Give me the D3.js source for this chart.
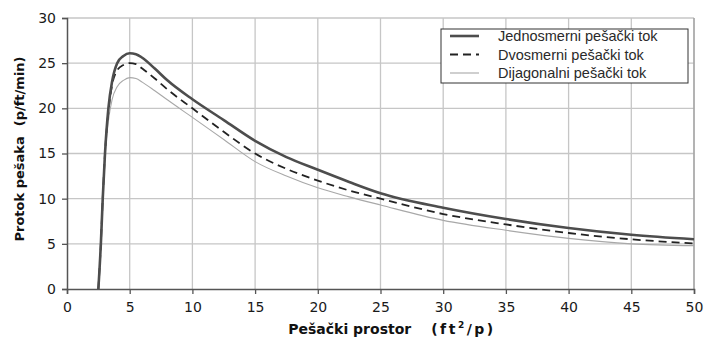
<!DOCTYPE html>
<html>
<head>
<meta charset="utf-8">
<script src="https://cdn.jsdelivr.net/npm/d3@7"></script>
<style>
  body { margin: 0; background: #fff; }
  svg { display: block; }
</style>
</head>
<body>
<div id="chart"></div>
<script>
// x = pedestrian space (ft2/p)
const space = [2.5, 2.7, 2.85, 3.03, 3.3, 3.6, 4.0, 4.5, 5, 5.5, 6, 7, 8, 10, 12.5, 15, 17.5, 20, 22.5, 25, 30, 35, 40, 45, 50];
const jednosmerni = [0, 5, 10, 15, 20, 23, 25, 25.8, 26.1, 26.0, 25.6, 24.4, 23.1, 21.0, 18.7, 16.4, 14.6, 13.2, 11.85, 10.6, 9.0, 7.75, 6.75, 6.0, 5.5];
const dvosmerni   = [0, 5, 10, 15, 19.6, 22.6, 24.2, 24.8, 25.0, 24.9, 24.4, 23.3, 22.1, 20.0, 17.4, 15.0, 13.3, 12.0, 10.9, 10.0, 8.3, 7.15, 6.2, 5.5, 5.05];
const dijagonalni = [0, 5, 10, 14.7, 18.6, 21.0, 22.4, 23.1, 23.4, 23.3, 22.9, 21.95, 20.95, 19.0, 16.55, 14.1, 12.5, 11.2, 10.2, 9.3, 7.6, 6.5, 5.6, 5.0, 4.8];
const xTicks = [0, 5, 10, 15, 20, 25, 30, 35, 40, 45, 50];
const yTicks = [0, 5, 10, 15, 20, 25, 30];
const seriesNames = ["Jednosmerni pešački tok", "Dvosmerni pešački tok", "Dijagonalni pešački tok"];

const W = 704, H = 339;
const margin = { top: 18, right: 10, bottom: 50, left: 67 };
const width = W - margin.left - margin.right;
const height = H - margin.top - margin.bottom;

const svg = d3.select("#chart").append("svg")
    .attr("width", W)
    .attr("height", H);
const g = svg.append("g")
    .attr("transform", "translate(" + margin.left + "," + margin.top + ")");

const x = d3.scaleLinear().domain([0, 50]).range([0, width]);
const y = d3.scaleLinear().domain([0, 30]).range([height, 0]);

// grid
g.append("g")
  .selectAll("line")
  .data(xTicks.slice(1))
  .enter().append("line")
  .attr("x1", d => x(d)).attr("x2", d => x(d))
  .attr("y1", 0).attr("y2", height)
  .style("stroke", "#c6c6c6")
  .style("stroke-width", 1.3);
g.append("g")
  .selectAll("line")
  .data(yTicks.slice(1))
  .enter().append("line")
  .attr("x1", 0).attr("x2", width)
  .attr("y1", d => y(d)).attr("y2", d => y(d))
  .style("stroke", "#c6c6c6")
  .style("stroke-width", 1.3);

// right border a bit darker
g.append("line")
  .attr("x1", x(50)).attr("x2", x(50))
  .attr("y1", 0).attr("y2", height)
  .style("stroke", "#999")
  .style("stroke-width", 1.2);

// axes
const xAxis = g.append("g")
  .attr("transform", "translate(0," + height + ")")
  .call(d3.axisBottom(x).tickValues(xTicks).tickSize(5).tickPadding(8));
const yAxis = g.append("g")
  .call(d3.axisLeft(y).tickValues(yTicks).tickSize(5).tickPadding(6));

[xAxis, yAxis].forEach(a => {
  a.select(".domain").style("stroke", "#555").style("stroke-width", 1.5);
  a.selectAll(".tick line").style("stroke", "#555").style("stroke-width", 1.3);
  a.selectAll(".tick text")
    .style("font-family", "'DejaVu Sans', Verdana, sans-serif")
    .style("font-size", "14px")
    .style("fill", "#1a1a1a");
});

// curves
const rows = space.map((s, i) => ({ s: s, a: jednosmerni[i], b: dvosmerni[i], c: dijagonalni[i] }));
const lineFor = key => d3.line()
  .x(d => x(d.s))
  .y(d => y(d[key]))
  .curve(d3.curveMonotoneX);

const styles = [
  { key: "c", stroke: "#a8a8a8", width: 1.1, dash: null },
  { key: "b", stroke: "#222", width: 1.8, dash: "8,5" },
  { key: "a", stroke: "#4d4d4d", width: 2.6, dash: null }
];

styles.forEach(st => {
  g.append("path")
    .datum(rows)
    .attr("d", lineFor(st.key))
    .style("fill", "none")
    .style("stroke", st.stroke)
    .style("stroke-width", st.width)
    .style("stroke-dasharray", st.dash);
});

// legend
const legend = svg.append("g").attr("transform", "translate(441,29)");
legend.append("rect")
  .attr("width", 247).attr("height", 54)
  .style("fill", "#fff")
  .style("stroke", "#333")
  .style("stroke-width", 1);

const legendStyles = [styles[2], styles[1], styles[0]];
seriesNames.forEach((name, i) => {
  const yy = 7 + i * 18.5;
  legend.append("line")
    .attr("x1", 9).attr("x2", 38)
    .attr("y1", yy).attr("y2", yy)
    .style("stroke", legendStyles[i].stroke)
    .style("stroke-width", legendStyles[i].width)
    .style("stroke-dasharray", legendStyles[i].dash);
  legend.append("text")
    .attr("x", 57).attr("y", yy)
    .attr("dy", "0.35em")
    .style("font-family", "'Liberation Sans', Arial, sans-serif")
    .style("font-size", "14.5px")
    .style("fill", "#2a2a2a")
    .text(name);
});

// axis titles
const yTitle = svg.append("text")
  .attr("transform", "translate(24,149) rotate(-90)")
  .style("text-anchor", "middle")
  .style("font-family", "'DejaVu Sans', Verdana, sans-serif")
  .style("font-weight", "bold")
  .style("font-size", "13px")
  .style("fill", "#111");
yTitle.append("tspan").text("Protok pešaka");
yTitle.append("tspan").attr("dx", 10).text("(p/ft/min)");

const xTitle = svg.append("text")
  .attr("x", 392).attr("y", 334)
  .style("text-anchor", "middle")
  .style("font-family", "'DejaVu Sans', Verdana, sans-serif")
  .style("font-weight", "bold")
  .style("font-size", "14px")
  .style("fill", "#111");
xTitle.append("tspan").text("Pešački prostor");
xTitle.append("tspan").attr("dx", 20).style("letter-spacing", "2.5px").text("(ft");
xTitle.append("tspan").attr("dy", -6).style("font-size", "9px").style("letter-spacing", "2.5px").text("2");
xTitle.append("tspan").attr("dy", 6).style("letter-spacing", "2.5px").text("/p)");
</script>
</body>
</html>
